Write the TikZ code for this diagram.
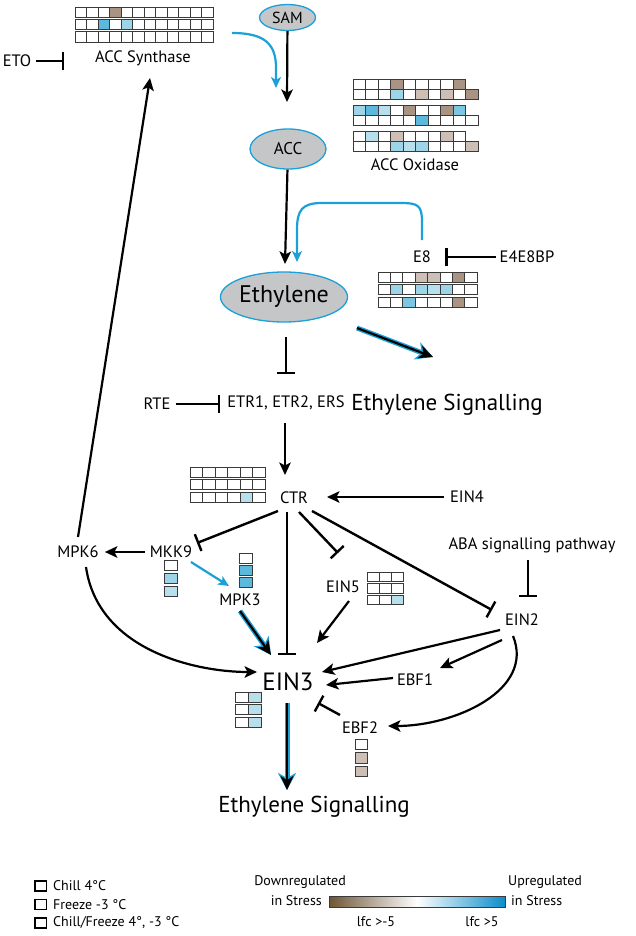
\documentclass[tikz,border=0pt]{standalone}
\usepackage{fontspec}
\setmainfont{PT Sans}
\usetikzlibrary{arrows.meta,shapes.geometric}
\definecolor{cyanb}{HTML}{1CA0D8}
\definecolor{ellfill}{HTML}{C5C6C8}
\definecolor{cw}{HTML}{FFFFFF}
\definecolor{tb}{HTML}{A99383}
\definecolor{tl}{HTML}{CDBFB5}
\definecolor{bb}{HTML}{5CB8DC}
\definecolor{bm}{HTML}{7CC6E2}
\definecolor{bl}{HTML}{9ED4E7}
\definecolor{bx}{HTML}{B8DFEC}
\definecolor{cellline}{HTML}{3A3A3A}
\definecolor{gbrown}{HTML}{6E5535}
\definecolor{gblue}{HTML}{0B8DCB}
\newcommand{\fsz}[1]{\fontsize{#1}{#1}\selectfont}
\newcommand{\gridrow}[5]{\foreach \c [count=\i from 0] in {#5}{\filldraw[cellst, fill=\c] ({#1+\i*#3},{#2}) rectangle ++(#3,#4);}}
\tikzset{
  cellst/.style={draw=cellline, line width=0.9pt},
  lbl/.style={inner sep=0pt, font=\fsz{16.5}},
  leg/.style={inner sep=0pt, font=\fsz{14}},
  ell/.style={ellipse, draw=cyanb, line width=1.3pt, fill=ellfill, inner sep=0pt},
  act/.style={line width=2.2pt, -{Stealth[length=12.5pt,width=11.5pt,inset=3pt]}},
  inh/.style={line width=2.4pt, -{Bar[width=18pt]}},
  bluearr/.style={draw=cyanb, line width=2.2pt, -{Stealth[length=11pt,width=10pt,inset=3pt]}},
  glow/.style={line width=2.2pt, -{Stealth[length=14pt,width=13pt,inset=4pt]},
    preaction={draw=cyanb, line width=5pt, -{Stealth[length=17pt,width=18pt,inset=5pt]}}},
  legsq/.style={draw=black, line width=1.6pt, fill=white}
}
\begin{document}
\begin{tikzpicture}[x=1pt,y=-1pt]
\useasboundingbox (0,0) rectangle (635,936);
\fill[white] (0,0) rectangle (635,936);

% ---------- grids ----------
% ACC Synthase
\gridrow{75}{7}{11.5}{10.5}{cw,cw,cw,tb,cw,cw,cw,cw,cw,cw,cw,cw}
\gridrow{75}{19.4}{11.5}{10.5}{cw,cw,bb,cw,bl,cw,cw,cw,cw,cw,cw,cw}
\gridrow{75}{31.8}{11.5}{10.5}{cw,cw,cw,cw,cw,cw,cw,cw,cw,cw,cw,cw}
% ACC Oxidase
\gridrow{353}{79}{12.5}{10.3}{cw,cw,cw,tb,cw,cw,cw,cw,tb}
\gridrow{353}{89.3}{12.5}{10.3}{cw,cw,cw,bl,cw,tl,cw,tl,cw,tb}
\gridrow{353}{105}{12.5}{10.3}{bl,bb,bx,cw,tb,cw,cw,tb,bm}
\gridrow{353}{115.3}{12.5}{10.3}{cw,cw,cw,cw,cw,bb,cw,cw,cw,cw}
\gridrow{353}{131}{12.5}{10.3}{cw,bx,cw,tl,cw,cw,cw,tl,cw}
\gridrow{353}{141.3}{12.5}{10.3}{cw,cw,cw,bl,bx,bl,cw,cw,cw,tl}
% E8
\gridrow{378}{272}{12.4}{10}{cw,cw,cw,tl,tl,cw,tb,cw}
\gridrow{378}{284.5}{12.4}{10}{cw,bl,cw,bl,bx,bl,cw,cw}
\gridrow{378}{297}{12.4}{10}{cw,cw,bm,cw,cw,cw,tb,cw}
% CTR
\gridrow{190}{467}{12.5}{10}{cw,cw,cw,cw,cw,cw}
\gridrow{190}{479.5}{12.5}{10}{cw,cw,cw,cw,cw,cw}
\gridrow{190}{492}{12.5}{10}{cw,cw,cw,cw,bx,cw}
% MKK9
\gridrow{164}{560}{13}{10.5}{cw}
\gridrow{164}{573}{13}{10.5}{bl}
\gridrow{164}{586}{13}{10.5}{bx}
% MPK3
\gridrow{239}{553}{13}{10.5}{cw}
\gridrow{239}{565}{13}{10.5}{bb}
\gridrow{239}{577}{13}{10.5}{bb}
% EIN5
\gridrow{367}{572}{12}{9.5}{cw,cw,cw}
\gridrow{367}{583.5}{12}{9.5}{cw,cw,cw}
\gridrow{367}{595}{12}{9.5}{cw,cw,bx}
% EIN3
\gridrow{235}{692}{13}{10}{cw,bx}
\gridrow{235}{704.5}{13}{10}{cw,bx}
\gridrow{235}{717}{13}{10}{cw,bx}
% EBF2
\gridrow{355}{739}{12.5}{10.5}{cw}
\gridrow{355}{752.5}{12.5}{10.5}{tl}
\gridrow{355}{766}{12.5}{10.5}{tl}

% ---------- nodes ----------
\node[ell, minimum width=56pt, minimum height=26pt, font=\fsz{16}] (sam) at (287.5,17.5) {SAM};
\node[ell, minimum width=76pt, minimum height=40pt, font=\fsz{17}] (acc) at (288,149) {ACC};
\node[ell, minimum width=126pt, minimum height=50pt, font=\fsz{24}] (eth) at (284,297) {Ethylene};

\node[lbl] (accs) at (143,58) {ACC Synthase};
\node[lbl] (eto) at (17,61) {ETO};
\node[lbl] (acco) at (415,165) {ACC Oxidase};
\node[lbl] (e8) at (422,257) {E8};
\node[lbl] (e4) at (527,257) {E4E8BP};
\node[lbl, font=\fsz{23}] (sig1) at (447,405) {Ethylene Signalling};
\node[lbl] (rte) at (157,404) {RTE};
\node[lbl] (etr) at (286,403) {ETR1, ETR2, ERS};
\node[lbl] (ctr) at (294,498) {CTR};
\node[lbl] (ein4) at (467,497) {EIN4};
\node[lbl] (mpk6) at (78,552) {MPK6};
\node[lbl] (mkk9) at (171,552) {MKK9};
\node[lbl] (mpk3) at (240,600) {MPK3};
\node[lbl] (ein5) at (343,587) {EIN5};
\node[lbl] (aba) at (532,545) {ABA signalling pathway};
\node[lbl] (ein2) at (522,620) {EIN2};
\node[lbl, font=\fsz{25}] (ein3) at (288,682) {EIN3};
\node[lbl] (ebf1) at (415,680) {EBF1};
\node[lbl] (ebf2) at (360,728) {EBF2};
\node[lbl, font=\fsz{23}] (sig2) at (314,807) {Ethylene Signalling};

% ---------- connector end points ----------
\coordinate (etob) at (64,61);
\coordinate (samt) at (287,102);
\coordinate (bs1) at (232,33);
\coordinate (bs1t) at (276,88);
\coordinate (acct) at (285,264);
\coordinate (bs2) at (422,240);
\coordinate (bs2t) at (297,262);
\coordinate (g1s) at (357,328);
\coordinate (g1e) at (433,357);
\coordinate (ethb) at (286,374);
\coordinate (etrs) at (286,337);
\coordinate (rteb) at (220,404);
\coordinate (etrd) at (285,423);
\coordinate (ctrt) at (285,475);
\coordinate (ctrl) at (278,511);
\coordinate (mkkb) at (197,543);
\coordinate (mpk6u) at (78,537);
\coordinate (accst) at (150,78);
\coordinate (mkkd) at (191,562);
\coordinate (mpk3t) at (229,586);
\coordinate (mpk3d) at (240,611);
\coordinate (ein3a) at (271,655);
\coordinate (ctrd) at (287,512);
\coordinate (ein3b) at (287,655);
\coordinate (ctrr) at (299,512);
\coordinate (ein5b) at (338,553);
\coordinate (ein5d) at (349,601);
\coordinate (ein3c) at (317,643);
\coordinate (ctrrr) at (312,511);
\coordinate (ein2b) at (492,610);
\coordinate (abad) at (528,560);
\coordinate (abab) at (528,597);
\coordinate (ein2a) at (500,630);
\coordinate (ein3d) at (322,672);
\coordinate (ein2c) at (502,640);
\coordinate (ebf1t) at (440,668);
\coordinate (ein2e) at (513,636);
\coordinate (ebf2t) at (388,726);
\coordinate (ebf1l) at (393,678);
\coordinate (ein3e) at (326,685);
\coordinate (mpk6d) at (86,567);
\coordinate (ein3f) at (257,672);
\coordinate (ebf2l) at (340,715);
\coordinate (ein3g) at (318,703);
\coordinate (ein3s) at (287,703);
\coordinate (sig2t) at (287,790);
\coordinate (ctrin) at (327,497);

% ---------- connectors ----------
\draw[inh] ([xshift=5pt]eto.east) -- (etob);
\draw[act] (sam) -- (samt);
\draw[bluearr] (bs1) .. controls (266,33) and (276,45) .. (276,68) -- (bs1t);
\draw[act] (acc) -- (acct);
\draw[bluearr] (bs2) -- (422,222) .. controls (422,205) and (418,203) .. (400,203) -- (322,203) .. controls (302,203) and (297,210) .. (297,230) -- (bs2t);
\draw[inh, shorten <=4pt, shorten >=14pt] (e4.west) -- (e8.east);
\draw[glow] (g1s) -- (g1e);
\draw[inh] (etrs) -- (ethb);
\draw[inh] ([xshift=5pt]rte.east) -- (rteb);
\draw[act] (etrd) -- (ctrt);
\draw[act] ([xshift=-6pt]ein4.west) -- (ctrin);
\draw[inh] (ctrl) -- (mkkb);
\draw[act] ([xshift=-5pt]mkk9.west) -- ([xshift=6pt]mpk6.east);
\draw[act] (mpk6u) -- (accst);
\draw[bluearr] (mkkd) -- (mpk3t);
\draw[glow] (mpk3d) -- (ein3a);
\draw[inh] (ctrd) -- (ein3b);
\draw[inh] (ctrr) -- (ein5b);
\draw[act] (ein5d) -- (ein3c);
\draw[inh] (ctrrr) -- (ein2b);
\draw[inh] (abad) -- (abab);
\draw[act] (ein2a) -- (ein3d);
\draw[act] (ein2c) -- (ebf1t);
\draw[act] (ein2e) .. controls (535,690) and (455,726) .. (ebf2t);
\draw[act] (ebf1l) -- (ein3e);
\draw[act] (mpk6d) .. controls (98,650) and (195,672) .. (ein3f);
\draw[inh] (ebf2l) -- (ein3g);
\draw[glow] (ein3s) -- (sig2t);

% ---------- legend ----------
\draw[legsq] (35,881) rectangle (46.5,891);
\draw[legsq] (35,899.5) rectangle (46.5,909.5);
\draw[legsq] (35,918) rectangle (46.5,928);
\node[leg, anchor=west] (l1) at (53,886) {Chill 4°C};
\node[leg, anchor=west] (l2) at (53,905) {Freeze -3 °C};
\node[leg, anchor=west] (l3) at (53,923) {Chill/Freeze 4°, -3 °C};
\node[leg, anchor=east] (dn1) at (346,882) {Downregulated};
\node[leg, anchor=east] (dn2) at (322,901) {in Stress};
\node[leg, anchor=west] (up1) at (508,882) {Upregulated};
\node[leg, anchor=west] (up2) at (511,901) {in Stress};
\node[leg] (lf1) at (376,922) {lfc >-5};
\node[leg] (lf2) at (482,922) {lfc >5};
\shade[left color=gbrown, right color=gblue, middle color=white] (329,896) rectangle (505,907);
\draw[draw=cellline, line width=0.8pt] (329,896) rectangle (505,907);
\end{tikzpicture}
\end{document}
